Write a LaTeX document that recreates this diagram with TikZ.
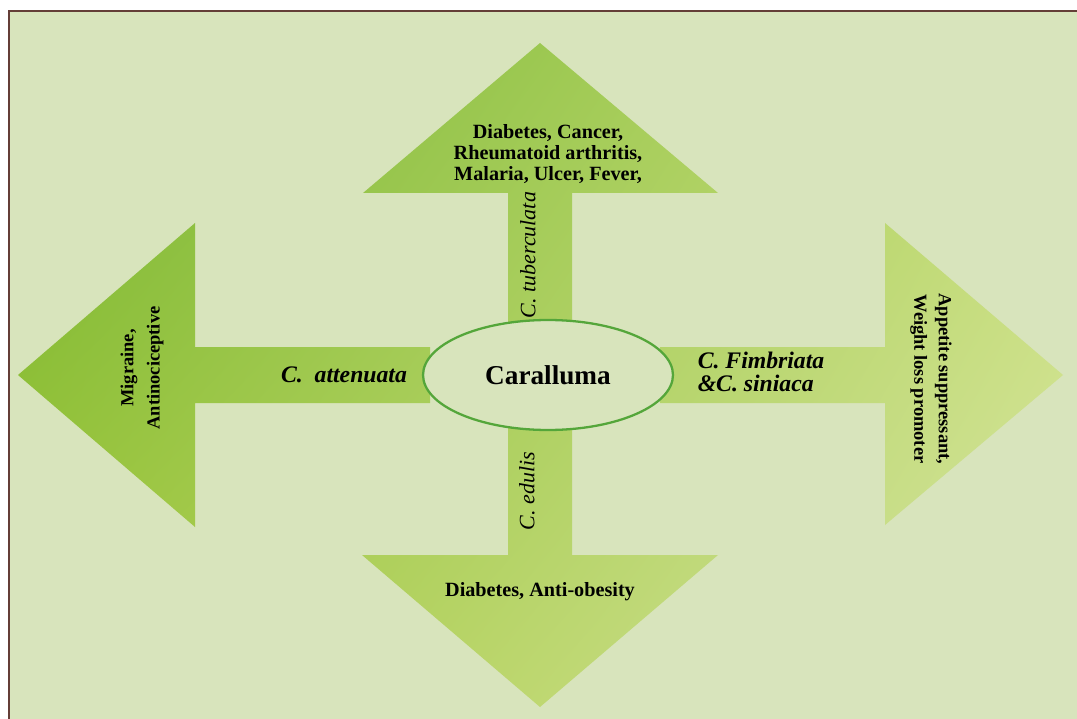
\documentclass[tikz,border=0pt]{standalone}
\usepackage{fontspec}
\setmainfont{Liberation Serif}
\usetikzlibrary{shapes.geometric,shadings}
\definecolor{backdrop}{RGB}{216,228,188}
\definecolor{frame}{RGB}{100,62,55}
\definecolor{ring}{RGB}{84,166,58}
\definecolor{darkleaf}{RGB}{116,180,50}
\definecolor{midleaf}{RGB}{196,220,112}
\definecolor{lowleaf}{RGB}{166,202,60}
\definecolor{paleleaf}{RGB}{216,230,168}

\begin{document}
\begin{tikzpicture}[x=0.02cm, y=-0.02cm]
            \tikzstyle{use} = [font=\bfseries, align=center]
            \tikzstyle{kind} = [font=\itshape]
            \useasboundingbox (0,0) rectangle (1077,719);
            \clip (0,0) rectangle (1077,719);
            \fill[backdrop] (9,11) rectangle (1090,730);
            \draw[frame, line width=1.7pt] (9,740) -- (9,11) -- (1090,11);

            \shade[upper left=darkleaf, upper right=midleaf,
                   lower left=lowleaf, lower right=paleleaf]
                (508,340) -- (508,193) -- (363,193) -- (540,43) -- (718,193) -- (572,193) -- (572,340) -- cycle
                (430,347) -- (195,347) -- (195,223) -- (18,375) -- (195,527) -- (195,403) -- (430,403) -- cycle
                (660,347) -- (885,347) -- (885,223) -- (1063,375) -- (885,525) -- (885,403) -- (660,403) -- cycle
                (508,420) -- (508,555) -- (362,555) -- (540,707) -- (718,555) -- (572,555) -- (572,420) -- cycle;

            \node[draw=ring, line width=1.3pt, fill=backdrop, ellipse, minimum width=5cm,
                minimum height=2.2cm, font=\bfseries\fontsize{15.5}{17}\selectfont] (caralluma) at (548,375) {Caralluma};

            \node[use, font=\bfseries\fontsize{11.5}{12}\selectfont] (tubuse) at (548,154)
                {Diabetes, Cancer,\\Rheumatoid arthritis,\\Malaria, Ulcer, Fever,};
            \node[kind, rotate=90, font=\itshape\fontsize{12.5}{14}\selectfont] (tubname) at (528,255) {C. tuberculata};

            \node[use, rotate=90, font=\bfseries\fontsize{10.5}{15}\selectfont] (attuse) at (142,368)
                {Migraine,\\Antinociceptive};
            \node[font=\bfseries\itshape\fontsize{13.5}{15}\selectfont] (attname) at (344,375) {C.\ \ attenuata};

            \node[align=left, font=\bfseries\itshape\fontsize{13.5}{13.5}\selectfont] (fimname) at (761,372)
                {C. Fimbriata\\\&C. siniaca};
            \node[use, rotate=-90, font=\bfseries\fontsize{10.5}{14}\selectfont] (fimuse) at (931,379)
                {Appetite suppressant,\\Weight loss promoter};

            \node[kind, rotate=90, font=\itshape\fontsize{12.5}{14}\selectfont] (eduname) at (527,491) {C. edulis};
            \node[use, font=\bfseries\fontsize{11.5}{13}\selectfont] (eduuse) at (540,592) {Diabetes, Anti-obesity};
        \end{tikzpicture}
\end{document}
